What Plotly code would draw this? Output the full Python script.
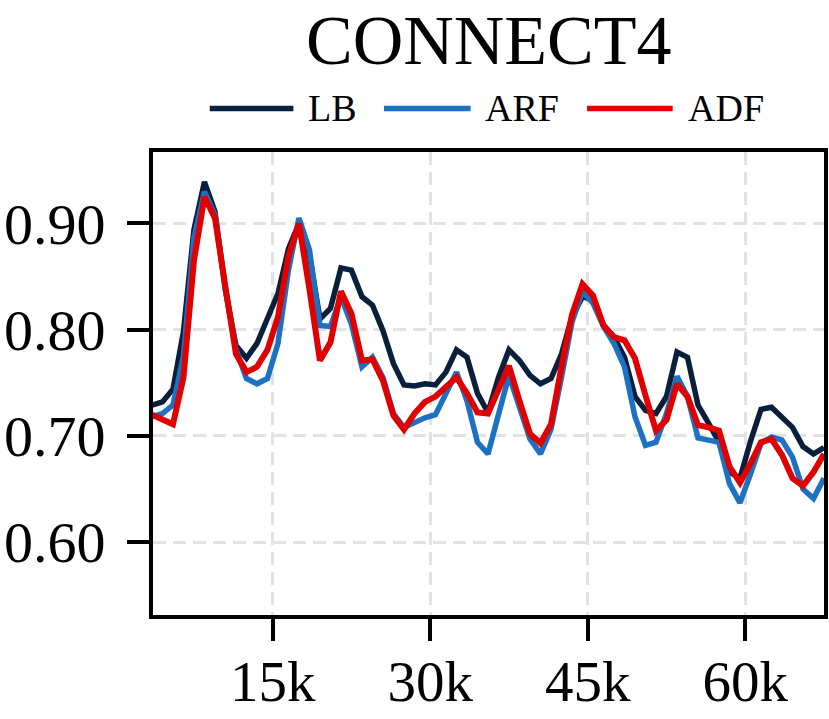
import plotly.graph_objects as go

# x positions in thousands of samples
x_k = list(range(3500, 68500, 1000))

lb = [0.729, 0.732, 0.744, 0.798, 0.894, 0.939, 0.911, 0.837, 0.785, 0.773,
      0.787, 0.809, 0.834, 0.876, 0.900, 0.870, 0.810, 0.820, 0.858, 0.856,
      0.831, 0.823, 0.799, 0.768, 0.748, 0.747, 0.749, 0.748, 0.760, 0.781,
      0.774, 0.740, 0.722, 0.755, 0.781, 0.771, 0.757, 0.749, 0.754, 0.777,
      0.812, 0.831, 0.828, 0.804, 0.793, 0.774, 0.737, 0.724, 0.721, 0.737,
      0.779, 0.774, 0.729, 0.712, 0.694, 0.666, 0.660, 0.695, 0.725, 0.727,
      0.718, 0.708, 0.690, 0.683, 0.689]

arf = [0.718, 0.721, 0.729, 0.775, 0.886, 0.930, 0.908, 0.837, 0.781, 0.754,
       0.749, 0.754, 0.787, 0.856, 0.905, 0.875, 0.804, 0.803, 0.831, 0.805,
       0.765, 0.774, 0.755, 0.721, 0.708, 0.713, 0.717, 0.720, 0.740, 0.760,
       0.733, 0.694, 0.683, 0.721, 0.757, 0.727, 0.697, 0.683, 0.706, 0.755,
       0.807, 0.836, 0.825, 0.803, 0.787, 0.765, 0.718, 0.691, 0.694, 0.721,
       0.756, 0.737, 0.698, 0.696, 0.694, 0.655, 0.637, 0.664, 0.693, 0.699,
       0.696, 0.680, 0.650, 0.641, 0.660]

adf = [0.720, 0.716, 0.711, 0.755, 0.865, 0.925, 0.905, 0.840, 0.777, 0.760,
       0.765, 0.781, 0.812, 0.869, 0.900, 0.838, 0.771, 0.788, 0.836, 0.815,
       0.771, 0.772, 0.752, 0.719, 0.706, 0.721, 0.732, 0.737, 0.746, 0.755,
       0.740, 0.722, 0.721, 0.743, 0.766, 0.733, 0.702, 0.693, 0.711, 0.765,
       0.814, 0.843, 0.832, 0.804, 0.793, 0.790, 0.773, 0.738, 0.705, 0.715,
       0.749, 0.737, 0.710, 0.708, 0.705, 0.671, 0.656, 0.674, 0.694, 0.697,
       0.682, 0.660, 0.653, 0.666, 0.683]

series_names = ["LB", "ARF", "ADF"]
series_colors = ["#0a1f3c", "#1c71c2", "#e00000"]
series_widths = [5.5, 5.5, 6]

x_tickvals = [15000, 30000, 45000, 60000]
x_ticktext = ["15k", "30k", "45k", "60k"]
y_tickvals = [0.60, 0.70, 0.80, 0.90]
y_ticktext = ["0.60", "0.70", "0.80", "0.90"]

FONT = "Liberation Serif"

fig = go.Figure()
for name, ys, col, w in zip(series_names, [lb, arf, adf], series_colors, series_widths):
    fig.add_trace(go.Scatter(x=x_k, y=ys, mode="lines", name=name,
                             line=dict(color=col, width=w), showlegend=False))

# custom legend above the plot (paper coordinates)
leg_y = 1.094
leg_items = [(0.0846, 0.2092, 0.228), (0.3442, 0.4733, 0.492), (0.6469, 0.7745, 0.795)]
for (x0, x1, xt), name, col in zip(leg_items, series_names, series_colors):
    fig.add_shape(type="line", xref="paper", yref="paper", x0=x0, x1=x1, y0=leg_y, y1=leg_y,
                  line=dict(color=col, width=5.5))
    fig.add_annotation(xref="paper", yref="paper", x=xt, y=leg_y, xanchor="left", yanchor="middle",
                       text=name, showarrow=False, font=dict(family=FONT, size=38, color="black"))

fig.add_annotation(xref="paper", yref="paper", x=0.5, y=1.2419, xanchor="center", yanchor="middle",
                   text="CONNECT4", showarrow=False, font=dict(family=FONT, size=70, color="black"))

fig.update_layout(
    width=829, height=719,
    margin=dict(l=153, r=5, t=152, b=104, autoexpand=False),
    paper_bgcolor="white", plot_bgcolor="white",
    font=dict(family=FONT, color="black"),
    showlegend=False,
)
fig.update_xaxes(range=[3600, 67500], tickvals=x_tickvals, ticktext=x_ticktext,
                 tickfont=dict(family=FONT, size=57, color="black"),
                 ticks="outside", ticklen=22, tickwidth=4, tickcolor="black",
                 showline=True, linewidth=4, linecolor="black", mirror=True,
                 showgrid=True, gridcolor="#e2e2e2", gridwidth=3, griddash="13px,7px",
                 zeroline=False, ticklabelstandoff=-8, automargin=False)
fig.update_yaxes(range=[0.5314, 0.9672], tickvals=y_tickvals, ticktext=y_ticktext,
                 tickfont=dict(family=FONT, size=58, color="black"),
                 ticks="outside", ticklen=22, tickwidth=4, tickcolor="black",
                 showline=True, linewidth=4, linecolor="black", mirror=True,
                 showgrid=True, gridcolor="#e2e2e2", gridwidth=3, griddash="13px,7px",
                 zeroline=False, ticklabelstandoff=10, automargin=False)

fig.write_html("out.html", config={"displayModeBar": False},
               post_script="document.body.style.margin='0px';")
